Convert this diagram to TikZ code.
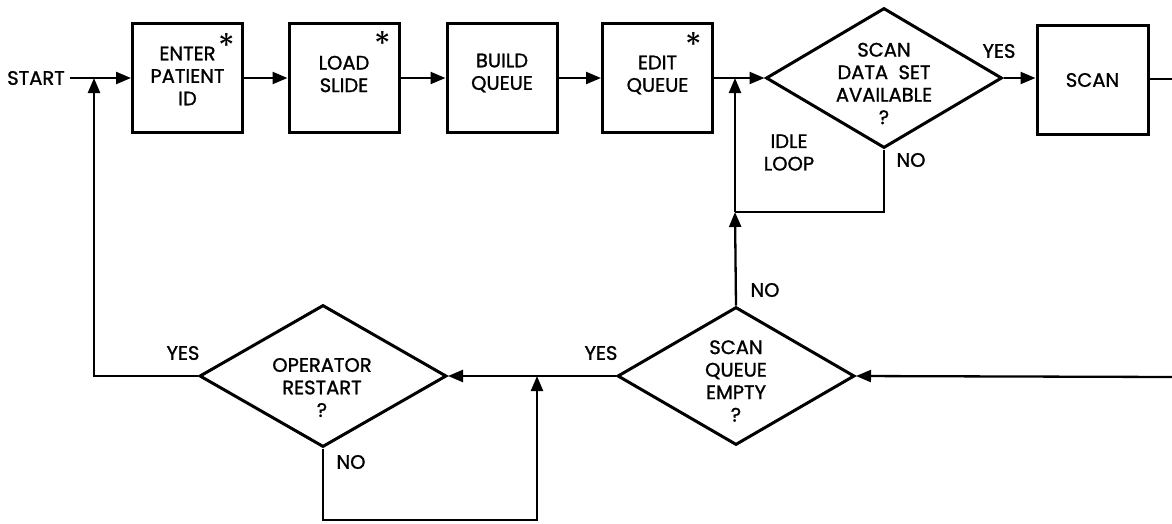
\documentclass[tikz,border=0pt]{standalone}
\usepackage{fontspec}
\setmainfont{Poppins}[FakeBold=1.2]
\newfontfamily\starfont{Poppins}[BoldFont=*]
\usetikzlibrary{arrows.meta,shapes.geometric}
\begin{document}
\begin{tikzpicture}[x=1pt,y=-1pt,
  every node/.style={font=\fontsize{19.5}{22.5}\selectfont, inner sep=0pt},
  proc/.style={draw, line width=3pt, minimum width=110pt, minimum height=109pt},
  dec/.style={draw, diamond, line width=3pt, minimum width=236pt, minimum height=140pt},
  txt/.style={align=center},
  conn/.style={line width=2.3pt},
  arr/.style={conn, -{Triangle[length=15pt,width=12pt]}},
  star/.style={font=\starfont\fontsize{34}{34}\selectfont}
]
\useasboundingbox (0,0) rectangle (1172,523);

% process boxes
\node[proc] (enter) at (187.5,78) {};
\node[proc] (load)  at (344,78) {};
\node[proc] (build) at (502,78) {};
\node[proc] (edit)  at (657.5,78) {};
\node[proc, minimum width=111pt] (scan) at (1092.5,80) {};

\node[txt] (tenter) at (187.5,76) {ENTER\\PATIENT\\ID};
\node[txt] (tload)  at (344,74) {LOAD\\SLIDE};
\node[txt] (tbuild) at (502,73) {BUILD\\QUEUE};
\node[txt] (tedit)  at (657.5,75) {EDIT\\QUEUE};
\node[txt] (tscan)  at (1092.5,80) {SCAN};

\node[star] (s1) at (227,46) {*};
\node[star] (s2) at (383,44) {*};
\node[star] (s3) at (694,45) {*};

% decisions
\node[dec] (d1) at (884,78) {};
\node[dec, minimum width=237pt, minimum height=138pt] (d2) at (736,376) {};
\node[dec, minimum width=247pt, minimum height=142pt] (d3) at (323,376) {};

\node[txt] (td1) at (884,83.5) {SCAN\\DATA\ \ SET\\AVAILABLE\\?};
\node[txt] (td2) at (736,381) {SCAN\\QUEUE\\EMPTY\\?};
\node[txt] (td3) at (322,387.5) {OPERATOR\\RESTART\\?};

% labels
\node[anchor=east, inner xsep=5pt] (start) at (70,78) {START};
\node (yes1) at (999,51) {YES};
\node[txt] (idlel) at (789,152.5) {IDLE\\LOOP};
\node (no1) at (911,160) {NO};
\node (no2) at (765,290) {NO};
\node (yes2) at (601,353) {YES};
\node (yes3) at (183,353) {YES};
\node (no3) at (351,462) {NO};

% junctions and free ends
\coordinate (j0) at (94,78);
\coordinate (j1) at (735,78);
\coordinate (idle) at (735,212);
\coordinate (j2) at (537,376);
\coordinate (bl) at (323,520);
\coordinate (outR) at (1173,79);
\coordinate (inR) at (1173,377);

% connectors
\draw[arr] (start.east) -- (enter.west);
\draw[arr] (enter.east) -- (load.west);
\draw[arr] (load.east) -- (build.west);
\draw[arr] (build.east) -- (edit.west);
\draw[arr] (edit.east) -- (d1.west);
\draw[arr] (d1.east) -- (d1.east -| scan.west);
\draw[conn] (scan.east |- outR) -- (outR);
\draw[arr] (inR) -- (d2.east);
\draw[arr] (d2.west) -- (d3.east);
\draw[conn] (d1.south) |- (idle);
\draw[arr] (d2.north) -- (idle);
\draw[arr] (idle) -- (j1);
\draw[arr] (d3.west) -| (j0);
\draw[arr] (d3.south) -- (bl) -| (j2);
\end{tikzpicture}
\end{document}
